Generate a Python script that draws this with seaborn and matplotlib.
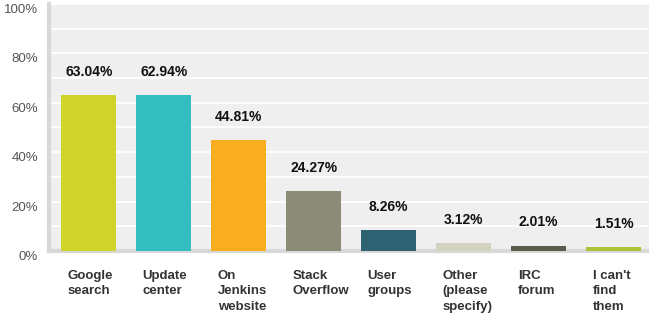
import matplotlib
matplotlib.use("Agg")
import matplotlib.pyplot as plt
import matplotlib.transforms as mtransforms
import numpy as np
import pandas as pd
import seaborn as sns

categories = ["Google\nsearch", "Update\ncenter", "On\nJenkins\nwebsite", "Stack\nOverflow",
              "User\ngroups", "Other\n(please\nspecify)", "IRC\nforum", "I can't\nfind\nthem"]
percents = [63.04, 62.94, 44.81, 24.27, 8.26, 3.12, 2.01, 1.51]
bar_colors = ["#d0d32a", "#33bdbf", "#f8ae1f", "#8b8b78", "#2e6272", "#d2d1c2", "#5b5b4b", "#a9c43a"]

df = pd.DataFrame({"answer": categories, "pct": percents})

sns.set_style("white")
plt.rcParams["font.family"] = ["Liberation Sans", "DejaVu Sans"]

fig = plt.figure(figsize=(6.49, 3.2), dpi=100)
ax = fig.add_axes([0.0755, 0.216, 0.9245, 0.7715])
ax.set_facecolor("#efefef")

sns.barplot(data=df, x="answer", y="pct", hue="answer", palette=bar_colors,
            legend=False, width=0.73, saturation=1, linewidth=0, ax=ax, zorder=3)

ax.set_ylim(0, 100)
ax.set_xlim(-0.53, 7.47)
ax.set_axisbelow(True)
ax.set_yticks(np.arange(0, 101, 20))
ax.set_yticks(np.arange(10, 100, 20), minor=True)
ax.yaxis.grid(True, which="both", color="white", linewidth=1.2)
ax.set_yticklabels([f"{v}%" for v in range(0, 101, 20)], color="#555555", fontsize=9.5)
ydown = mtransforms.ScaledTranslation(0, -0.03, fig.dpi_scale_trans)
for lab in ax.get_yticklabels():
    lab.set_verticalalignment("top")
    lab.set_transform(lab.get_transform() + ydown)
ax.tick_params(axis="y", which="both", length=0, pad=8)

# category labels: left aligned near the bar's left edge
ax.set_xticks(range(len(categories)))
ax.set_xticklabels(categories, fontsize=9.5, fontweight="bold", color="#333333",
                   ha="left", va="top", linespacing=1.35)
ax.tick_params(axis="x", length=0, pad=14)
offset = mtransforms.ScaledTranslation(-0.21, 0, fig.dpi_scale_trans)
for lab in ax.get_xticklabels():
    lab.set_transform(lab.get_transform() + offset)

for i, v in enumerate(percents):
    ax.text(i, v + 9.5, f"{v:.2f}%", ha="center", va="center", fontsize=10,
            fontweight="bold", color="#111111")

ax.set_xlabel("")
ax.set_ylabel("")
for side in ["top", "right"]:
    ax.spines[side].set_visible(False)
ax.spines["left"].set_color("#d8d8d8")
ax.spines["left"].set_linewidth(3)
ax.spines["bottom"].set_color("#d8d8d8")
ax.spines["bottom"].set_linewidth(3)

fig.savefig("out.png", dpi=100)
